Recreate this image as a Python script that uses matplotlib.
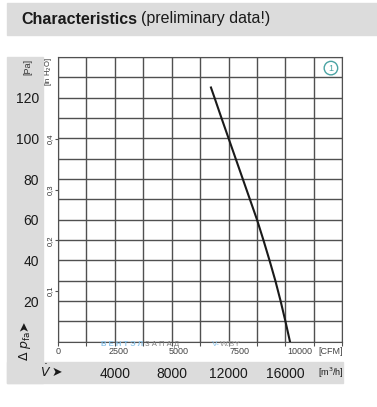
import matplotlib.pyplot as plt
from matplotlib.patches import Rectangle

W, H = 377, 407

# fan curve: air flow [m3/h] vs pressure [Pa]
flow = [10760, 11010, 11500, 12000, 12500, 13000, 13500, 14000, 14450, 14880, 15290, 15660, 16000, 16320]
pressure = [125, 120, 110, 100, 90, 80, 70, 60, 50, 40, 30, 20, 10, 0]

pa_labels = [20, 40, 60, 80, 100, 120]
inh2o_ticks = [0.1, 0.2, 0.3, 0.4]
m3h_labels = [4000, 8000, 12000, 16000]
cfm_ticks = [0, 2500, 5000, 7500, 10000]

PA_PER_INH2O = 249.089
M3H_PER_CFM = 1.699

plt.rcParams['font.family'] = ['Liberation Sans', 'DejaVu Sans']

grey = '#dcdcdc'
grid_col = '#505050'
teal = '#4aa3a3'
ink = '#1a1a1a'


def fx(x):
    return x / W


def fy(y):
    return 1 - y / H


fig = plt.figure(figsize=(W / 100, H / 100), dpi=100)

# grey bands: header, left strip, bottom strip (behind the axes)
for x0, y0, x1, y1 in [(7, 3, 377, 35), (7, 57, 43, 383), (7, 362, 343, 383)]:
    fig.patches.append(Rectangle((fx(x0), fy(y1)), fx(x1) - fx(x0), fy(y0) - fy(y1),
                                 transform=fig.transFigure, color=grey, zorder=-5))

t1 = fig.text(fx(21), fy(19), 'Characteristics', fontsize=11.5, weight='bold',
              va='center', color=ink)
fig.canvas.draw()
bb = t1.get_window_extent()
fig.text(bb.x1 / W + fx(4), fy(19), '(preliminary data!)', fontsize=11.5, va='center', color=ink)

rect = [fx(58), fy(341.7), fx(342.3) - fx(58), fy(57) - fy(341.7)]
ax = fig.add_axes(rect)
ax.set_xlim(0, 20000)
ax.set_ylim(0, 140)
ax.set_xticks(range(0, 20001, 2000))
ax.set_xticklabels([str(v) if v in m3h_labels else '' for v in range(0, 20001, 2000)])
ax.set_yticks(range(0, 141, 10))
ax.set_yticklabels([str(v) if v in pa_labels else '' for v in range(0, 141, 10)])
ax.grid(True, color=grid_col, lw=1)
for s in ax.spines.values():
    s.set_color(grid_col)
ax.tick_params(axis='x', length=3, color=grid_col, pad=15, labelsize=10, labelcolor=ink)
ax.tick_params(axis='y', length=0, pad=13.5, labelsize=10, labelcolor=ink)
ax.set_axisbelow(True)

ax.plot(flow, pressure, color=ink, lw=1.5, zorder=3)

# second scale: inch water (left) and CFM (bottom)
ax2 = fig.add_axes(rect, frameon=False)
ax2.patch.set_visible(False)
ax2.set_ylim(0, 140 / PA_PER_INH2O)
ax2.set_xlim(0, 20000 / M3H_PER_CFM)
ax2.set_yticks(inh2o_ticks)
ax2.set_yticklabels([f'{v:.1f}'.replace('.', ',') for v in inh2o_ticks],
                    rotation=90, va='center')
ax2.tick_params(axis='y', length=2, pad=1, labelsize=5.5, color=grid_col, labelcolor='#333333')
ax2.set_xticks(cfm_ticks)
ax2.tick_params(axis='x', length=0, pad=4, labelsize=6.5, labelcolor='#444444')

ax.text(0.96, 0.961, '1', transform=ax.transAxes, ha='center', va='center',
        fontsize=6.5, color=teal,
        bbox=dict(boxstyle='circle,pad=0.25', fc='white', ec=teal, lw=1))

# unit labels
fig.text(fx(28), fy(67), '[Pa]', rotation=90, ha='center', va='center', fontsize=6.5, color='#333333')
fig.text(fx(49), fy(72), '[in H$_2$O]', rotation=90, ha='center', va='center', fontsize=5.5, color='#333333')
fig.text(fx(331), fy(351), '[CFM]', ha='center', va='center', fontsize=6.5, color='#444444')
fig.text(fx(331), fy(373), '[m$^3$/h]', ha='center', va='center', fontsize=6.5, color=ink)

# axis symbols
fig.text(fx(25), fy(346), r'$\Delta\ p_{\rm fa}$', rotation=90, ha='center', va='center',
         fontsize=9, color=ink)
fig.text(fx(24), fy(326), '➤', rotation=90, ha='center', va='center', fontsize=9,
         color=ink, family='DejaVu Sans')
fig.text(fx(46), fy(372), r'$\dot{V}$', ha='center', va='center', fontsize=9, color=ink)
fig.text(fx(57), fy(372), '➤', ha='center', va='center', fontsize=9,
         color=ink, family='DejaVu Sans')

# watermark
w1 = fig.text(fx(101), fy(344), 'В Е Н Т Э Л', ha='left', va='center', fontsize=5.5,
              color='#8cc4ea', weight='bold')
fig.canvas.draw()
fig.text(w1.get_window_extent().x1 / W + fx(2), fy(344), 'З А П А Д', ha='left', va='center',
         fontsize=5.5, color='#7a7a7a')
w3 = fig.text(fx(212), fy(344), 'V-', ha='left', va='center', fontsize=6, color='#8cc4ea')
fig.canvas.draw()
fig.text(w3.get_window_extent().x1 / W, fy(344), 'W.BY', ha='left', va='center',
         fontsize=6, color='#9a9a9a')

fig.savefig('out.png', dpi=100)
